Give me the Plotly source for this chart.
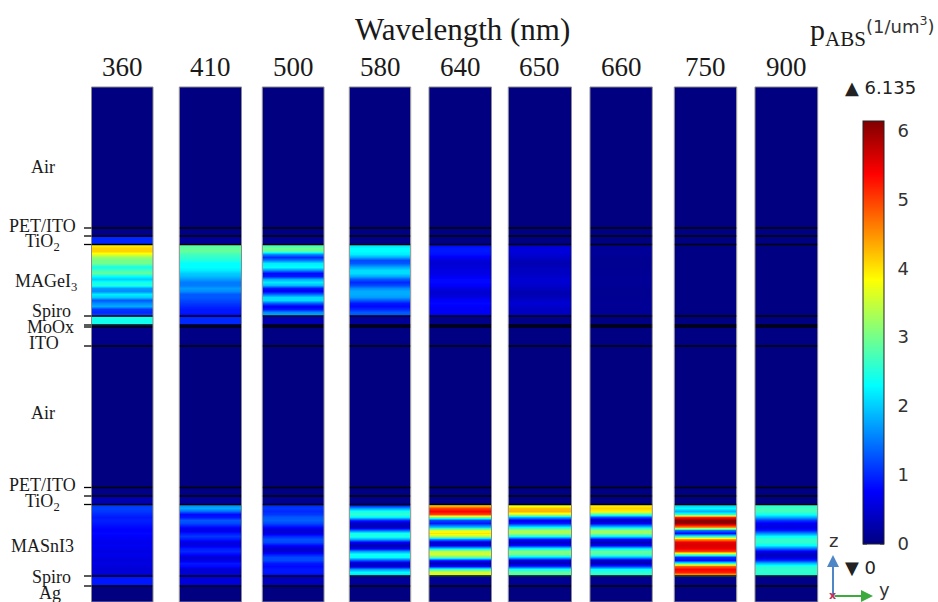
import numpy as np
import plotly.graph_objects as go

# ---------------- data ----------------
wavelengths = ["360", "410", "500", "580", "640", "650", "660", "750", "900"]

# layer stack from bottom (z=0) to top, interface positions along z (arbitrary length units)
layer_names = ["Ag", "Spiro", "MASnI3", "TiO2", "PET/ITO", "Air",
               "ITO", "MoOx", "Spiro", "MAGeI3", "TiO2", "PET/ITO", "Air"]
layer_bounds = [0, 16, 26, 97.5, 106, 114.5, 256, 275, 277, 286, 357.5, 366, 374, 515]

# p_ABS (1/um^3) in non-absorber layers, one value per wavelength
p_ag = [0, 0, 0, 0, 0, 0, 0, 0, 0]
p_spiro_bottom = [0.9, 0.55, 0.35, 0.15, 0.1, 0.1, 0.08, 0.05, 0.05]
p_tio2_bottom = [0.3, 0.15, 0.1, 0.05, 0.03, 0.03, 0.02, 0.02, 0.02]
p_petito_bottom = [0.05, 0.03, 0.02, 0.02, 0.02, 0.02, 0.02, 0.02, 0.02]
p_air = [0, 0, 0, 0, 0, 0, 0, 0, 0]
p_ito = [0.05, 0.03, 0.02, 0.02, 0.02, 0.02, 0.02, 0.02, 0.02]
p_moox = [0.3, 0.1, 0.05, 0.02, 0.02, 0.02, 0.02, 0.02, 0.02]
p_spiro_top = [2.4, 1.0, 0.3, 0.15, 0.05, 0.05, 0.03, 0.02, 0.02]
p_tio2_top = [1.0, 0.15, 0.1, 0.05, 0.03, 0.03, 0.02, 0.02, 0.02]
p_petito_top = [0.05, 0.03, 0.02, 0.02, 0.02, 0.02, 0.02, 0.02, 0.02]

# p_ABS profiles across the absorbers, read from top to bottom of the layer (24 samples)
p_magei3 = {
    "360": [3.9, 4.1, 4.1, 3.7, 3.2, 3.0, 3.0, 2.4, 2.7, 2.9, 2.3, 2.0,
            2.4, 2.5, 1.7, 1.6, 2.2, 2.0, 1.3, 1.6, 1.8, 1.1, 1.0, 1.2],
    "410": [2.8, 2.9, 2.9, 2.7, 2.6, 2.5, 2.3, 2.3, 2.2, 2.0, 1.9, 1.7,
            1.5, 1.5, 1.7, 1.6, 1.3, 1.3, 1.2, 1.1, 1.0, 0.9, 0.9, 0.8],
    "500": [2.6, 3.0, 2.8, 1.6, 1.0, 1.5, 2.2, 2.3, 1.6, 0.8, 0.9, 1.8,
            2.2, 1.9, 0.9, 0.7, 1.4, 2.1, 2.1, 1.3, 0.7, 0.9, 1.6, 1.8],
    "580": [2.1, 2.3, 2.3, 2.2, 1.8, 1.2, 1.3, 1.8, 2.1, 2.1, 1.8, 1.3,
            1.0, 1.2, 1.6, 1.8, 1.8, 1.7, 1.3, 0.9, 0.8, 1.0, 1.3, 1.3],
    "640": [0.8, 0.9, 0.9, 0.85, 0.7, 0.55, 0.5, 0.55, 0.6, 0.6, 0.7, 0.8,
            0.8, 0.75, 0.6, 0.5, 0.5, 0.6, 0.75, 0.8, 0.75, 0.7, 0.7, 0.7],
    "650": [0.5, 0.55, 0.55, 0.5, 0.45, 0.35, 0.3, 0.35, 0.4, 0.4, 0.45, 0.5,
            0.5, 0.45, 0.4, 0.3, 0.3, 0.35, 0.45, 0.5, 0.45, 0.4, 0.4, 0.4],
    "660": [0.14, 0.15, 0.15, 0.14, 0.12, 0.1, 0.1, 0.1, 0.12, 0.12, 0.13, 0.14,
            0.14, 0.13, 0.11, 0.1, 0.1, 0.11, 0.12, 0.13, 0.12, 0.12, 0.12, 0.12],
    "750": [0.03] * 24,
    "900": [0.02] * 24,
}
p_masni3 = {
    "360": [1.1, 1.15, 1.1, 1.0, 0.9, 0.95, 0.9, 0.8, 0.75, 0.8, 0.75, 0.7,
            0.65, 0.7, 0.65, 0.6, 0.65, 0.6, 0.55, 0.6, 0.55, 0.5, 0.55, 0.5],
    "410": [1.6, 1.8, 1.4, 0.8, 0.9, 1.3, 1.2, 0.8, 0.6, 0.9, 1.1, 0.9,
            0.6, 0.6, 0.9, 1.0, 0.8, 0.5, 0.6, 0.9, 0.8, 0.5, 0.5, 0.6],
    "500": [1.0, 1.1, 1.0, 1.1, 1.3, 1.35, 1.2, 0.8, 0.5, 0.6, 1.0, 1.25,
            1.2, 0.8, 0.5, 0.5, 0.9, 1.2, 1.2, 0.9, 0.8, 0.9, 0.9, 0.8],
    "580": [0.9, 1.7, 2.4, 2.6, 2.2, 1.0, 0.4, 0.4, 1.4, 2.4, 2.5, 1.8,
            0.7, 0.3, 0.6, 1.7, 2.4, 2.3, 1.3, 0.4, 0.5, 1.7, 2.3, 2.1],
    "640": [4.0, 5.0, 5.4, 5.0, 3.0, 1.2, 0.9, 2.0, 3.6, 4.0, 3.4, 1.6,
            0.5, 0.6, 2.0, 3.4, 3.6, 2.8, 1.0, 0.3, 0.8, 2.6, 3.6, 3.5],
    "650": [3.6, 4.2, 4.3, 3.6, 1.8, 0.7, 0.9, 2.3, 3.3, 3.3, 2.4, 0.9,
            0.4, 0.8, 2.2, 3.1, 3.0, 2.0, 0.6, 0.3, 1.0, 2.4, 2.9, 2.7],
    "660": [3.9, 4.1, 3.9, 2.8, 1.2, 0.4, 0.7, 2.1, 3.2, 3.2, 2.2, 0.8,
            0.3, 0.7, 2.1, 2.9, 2.8, 1.8, 0.5, 0.3, 1.1, 2.3, 2.6, 2.5],
    "750": [2.0, 2.3, 1.8, 2.5, 5.2, 6.1, 6.0, 4.5, 1.5, 0.8, 2.5, 4.5,
            5.5, 5.6, 5.5, 5.0, 3.0, 1.0, 0.8, 2.5, 4.8, 5.4, 5.2, 4.2],
    "900": [2.5, 2.7, 2.7, 2.4, 1.8, 1.1, 0.7, 0.6, 0.9, 1.6, 2.3, 2.6,
            2.6, 2.3, 1.5, 0.7, 0.4, 0.5, 1.0, 1.9, 2.5, 2.6, 2.6, 2.4],
}
p_max = 6.135
cbar_ticks = [0, 1, 2, 3, 4, 5, 6]

# --------------- layout / styling ---------------
W, H = 938, 602
TOP = 87
PH = H - TOP
col_px = [(91.5, 153), (179.3, 241.5), (262.3, 324), (349.3, 410.7), (429, 491.5),
          (508.3, 571.5), (590, 652.3), (674.3, 736.7), (755, 817.7)]
CB_LEFT, CB_TOP, CB_LEN, CB_THICK = 863, 121, 423, 21

jet = [[0.0, "rgb(0,0,128)"], [0.125, "rgb(0,0,255)"], [0.375, "rgb(0,255,255)"],
       [0.625, "rgb(255,255,0)"], [0.875, "rgb(255,0,0)"], [1.0, "rgb(128,0,0)"]]

uniform_layers = {0: p_ag, 1: p_spiro_bottom, 3: p_tio2_bottom, 4: p_petito_bottom,
                  5: p_air, 6: p_ito, 7: p_moox, 8: p_spiro_top, 10: p_tio2_top,
                  11: p_petito_top, 12: p_air}
absorbers = {2: p_masni3, 9: p_magei3}

EDGE = 0.6
fig = go.Figure()
for i, wl in enumerate(wavelengths):
    zpos, vals = [], []
    for k in range(len(layer_names)):
        b, t = layer_bounds[k], layer_bounds[k + 1]
        if k in absorbers:
            prof = absorbers[k][wl]
            pos = np.linspace(t - EDGE, b + EDGE, len(prof))
            for p, v in sorted(zip(pos, prof)):
                zpos.append(float(p)); vals.append(v)
        else:
            v = uniform_layers[k][i]
            zpos += [b + EDGE, t - EDGE]
            vals += [v, v]
    xa = "x" if i == 0 else f"x{i+1}"
    fig.add_trace(go.Heatmap(
        x=[0, 1], y=zpos, z=[[v, v] for v in vals],
        zmin=0, zmax=p_max, colorscale=jet, zsmooth="best",
        xaxis=xa, yaxis="y", hoverinfo="skip",
        showscale=(i == 0),
        colorbar=dict(
            x=CB_LEFT / W, xanchor="left", y=(H - CB_TOP) / PH, yanchor="top",
            len=CB_LEN, lenmode="pixels", thickness=CB_THICK, thicknessmode="pixels",
            outlinewidth=1, outlinecolor="#222", xpad=0, ypad=0,
            tickvals=cbar_ticks, ticks="outside", ticklen=10,
            tickcolor="rgba(0,0,0,0)", tickwidth=1,
            tickfont=dict(family="DejaVu Sans", size=18, color="#333"),
        ),
    ))

layout = dict(
    width=W, height=H, margin=dict(l=0, r=0, t=TOP, b=0),
    paper_bgcolor="white", plot_bgcolor="white", showlegend=False,
    yaxis=dict(range=[0, layer_bounds[-1]], visible=False, domain=[0, 1], fixedrange=True),
)
for i, (l, r) in enumerate(col_px):
    key = "xaxis" if i == 0 else f"xaxis{i+1}"
    layout[key] = dict(domain=[l / W, r / W], range=[-0.5, 1.5], visible=False,
                       anchor="y", fixedrange=True)
fig.update_layout(**layout)

shapes = []
interfaces = layer_bounds[1:-1]
for i in range(len(col_px)):
    xr = "x domain" if i == 0 else f"x{i+1} domain"
    for zb in interfaces:
        shapes.append(dict(type="line", xref=xr, yref="y", x0=0, x1=1, y0=zb, y1=zb,
                           line=dict(color="black", width=1.3)))
    shapes.append(dict(type="rect", xref=xr, yref="y domain", x0=0, x1=1, y0=0, y1=1,
                       line=dict(color="#8a8a8a", width=1)))
for zb in interfaces:
    shapes.append(dict(type="line", xref="paper", yref="y", x0=84 / W, x1=col_px[0][0] / W,
                       y0=zb, y1=zb, line=dict(color="black", width=1.3)))
# small inside tick marks on both edges of the colour bar
for v in cbar_ticks:
    ypx = CB_TOP + CB_LEN * (1 - v / p_max)
    yp = (H - ypx) / PH
    for x0, x1 in [(CB_LEFT, CB_LEFT + 4), (CB_LEFT + CB_THICK - 4, CB_LEFT + CB_THICK)]:
        shapes.append(dict(type="line", xref="paper", yref="paper", x0=x0 / W, x1=x1 / W,
                           y0=yp, y1=yp, line=dict(color="#222", width=1)))
fig.update_layout(shapes=shapes)

SERIF = "Liberation Serif"
ann = []


def label(text, xpx, ypx, size, family=SERIF, color="#1a1a1a", xanchor="center"):
    return dict(text=text, x=xpx / W, y=(H - ypx) / PH, xref="paper", yref="paper",
                xanchor=xanchor, yanchor="middle", showarrow=False,
                font=dict(family=family, size=size, color=color))


# title and wavelength headers
ann.append(label("Wavelength (nm)", 462, 29, 31))
for i, wl in enumerate(wavelengths):
    l, r = col_px[i]
    ann.append(label(wl, (l + r) / 2, 67, 27))
# layer labels (text, z anchor, x centre px)
layer_labels = [("Air", 435, 43), ("PET/ITO", 376, 42), ("TiO<sub>2</sub>", 360, 42),
                ("MAGeI<sub>3</sub>", 320, 46), ("Spiro", 291, 51), ("MoOx", 275, 50),
                ("ITO", 259, 44), ("Air", 189, 43), ("PET/ITO", 117, 42),
                ("TiO<sub>2</sub>", 100, 42), ("MASnI3", 56, 42), ("Spiro", 25, 51),
                ("Ag", 9, 50)]
for txt, zc, xc in layer_labels:
    ann.append(dict(text=txt, x=xc / W, y=zc, xref="paper", yref="y", showarrow=False,
                    xanchor="center", yanchor="middle",
                    font=dict(family=SERIF, size=18, color="#1a1a1a")))
# colour legend texts
ann.append(label("p<sub>ABS</sub>", 808, 32, 30, xanchor="left"))
ann.append(label("(1/um<sup>3</sup>)", 864, 25, 18, family="DejaVu Sans", color="#333",
                 xanchor="left"))
ann.append(label("\u25B2 6.135", 843, 88, 18, family="DejaVu Sans", color="#222",
                 xanchor="left"))
ann.append(label("\u25BC 0", 843, 567, 18, family="DejaVu Sans", color="#222",
                 xanchor="left"))
# axis triad
ann.append(dict(text="", x=833 / W, y=(H - 555) / PH, xref="paper", yref="paper",
                showarrow=True, ax=0, ay=42, arrowhead=2, arrowsize=1.2, arrowwidth=2,
                arrowcolor="#4f86c6"))
ann.append(dict(text="", x=873 / W, y=(H - 596) / PH, xref="paper", yref="paper",
                showarrow=True, ax=-40, ay=0, arrowhead=2, arrowsize=1.2, arrowwidth=2,
                arrowcolor="#3daa3d"))
ann.append(label("<b>x</b>", 832, 595, 11, family="DejaVu Sans", color="#c02c5c"))
ann.append(label("z", 833, 540, 18, family="DejaVu Sans", color="#333"))
ann.append(label("y", 884, 589, 18, family="DejaVu Sans", color="#333"))
fig.update_layout(annotations=ann)

fig.write_html("out.html")
